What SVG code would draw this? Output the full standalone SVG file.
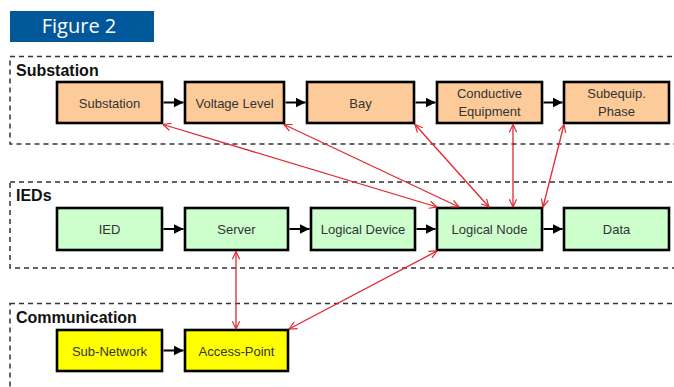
<svg xmlns="http://www.w3.org/2000/svg" width="674" height="387" viewBox="0 0 674 387">
  <style>
    .band { fill: none; stroke: #333; stroke-width: 1.5; stroke-dasharray: 5 4; }
    .band-title { font-family: "Liberation Sans", Arial, sans-serif; font-weight: bold; font-size: 16px; fill: #111; }
    .box { stroke: #000; stroke-width: 2.6; }
    .sub { fill: #FDCB9A; }
    .ied { fill: #CCFFCC; }
    .com { fill: #FFFF00; }
    .lbl { font-family: "Liberation Sans", Arial, sans-serif; font-size: 13px; fill: #333; text-anchor: middle; }
    .flow { stroke: #000; stroke-width: 2; fill: none; marker-end: url(#head); }
    .link { stroke: #E0282E; stroke-width: 1.3; fill: none; marker-start: url(#vee); marker-end: url(#vee); }
  </style>
  <defs>
    <marker id="head" viewBox="0 0 10 10" refX="10" refY="5" markerWidth="5" markerHeight="5" markerUnits="strokeWidth" orient="auto">
      <path d="M0,0 L10,5 L0,10 Z" fill="#000"/>
    </marker>
    <marker id="vee" viewBox="0 0 10 10" refX="9.5" refY="5" markerWidth="7" markerHeight="7" markerUnits="strokeWidth" orient="auto-start-reverse">
      <path d="M1,1 L9.5,5 L1,9" fill="none" stroke="#E0282E" stroke-width="1.3"/>
    </marker>
  </defs>

  <rect width="674" height="387" fill="#fff"/>

  <!-- title banner -->
  <g id="banner">
    <rect x="10" y="11" width="144" height="31" fill="#00589A"/>
    <text x="79" y="33" font-family="'Open Sans', 'Noto Sans', sans-serif" font-size="20" fill="#fff" text-anchor="middle">Figure 2</text>
  </g>

  <!-- layer bands -->
  <g id="bands">
    <rect class="band" x="10" y="56.5" width="700" height="87.5"/>
    <text class="band-title" x="16" y="76">Substation</text>
    <rect class="band" x="10" y="182" width="700" height="86"/>
    <text class="band-title" x="16" y="201">IEDs</text>
    <rect class="band" x="10" y="303.5" width="700" height="120"/>
    <text class="band-title" x="16" y="323">Communication</text>
  </g>

  <!-- substation layer -->
  <g id="n-substation"><rect class="box sub" x="57" y="82" width="105" height="41"/><text class="lbl" x="109.5" y="107.5">Substation</text></g>
  <g id="n-voltage-level"><rect class="box sub" x="185" y="82" width="99" height="41"/><text class="lbl" x="234.5" y="107.5">Voltage Level</text></g>
  <g id="n-bay"><rect class="box sub" x="307" y="82" width="107" height="41"/><text class="lbl" x="360.5" y="107.5">Bay</text></g>
  <g id="n-conductive-equipment"><rect class="box sub" x="437" y="82" width="105" height="41"/><text class="lbl" x="489.5" y="98">Conductive</text><text class="lbl" x="489.5" y="115.5">Equipment</text></g>
  <g id="n-subequip-phase"><rect class="box sub" x="564" y="82" width="105" height="41"/><text class="lbl" x="616.5" y="98">Subequip.</text><text class="lbl" x="616.5" y="115.5">Phase</text></g>

  <!-- IED layer -->
  <g id="n-ied"><rect class="box ied" x="57" y="208" width="105" height="42"/><text class="lbl" x="109.5" y="233.5">IED</text></g>
  <g id="n-server"><rect class="box ied" x="185" y="208" width="103" height="42"/><text class="lbl" x="236.5" y="233.5">Server</text></g>
  <g id="n-logical-device"><rect class="box ied" x="311" y="208" width="104" height="42"/><text class="lbl" x="363" y="233.5">Logical Device</text></g>
  <g id="n-logical-node"><rect class="box ied" x="437" y="208" width="105" height="42"/><text class="lbl" x="489.5" y="233.5">Logical Node</text></g>
  <g id="n-data"><rect class="box ied" x="564" y="208" width="105" height="42"/><text class="lbl" x="616.5" y="233.5">Data</text></g>

  <!-- communication layer -->
  <g id="n-sub-network"><rect class="box com" x="57" y="330" width="105" height="41"/><text class="lbl" x="109.5" y="355.5">Sub-Network</text></g>
  <g id="n-access-point"><rect class="box com" x="185" y="330" width="103" height="41"/><text class="lbl" x="236.5" y="355.5">Access-Point</text></g>

  <!-- connectors -->
  <g id="connectors">
    <!-- containment chains -->
    <line class="flow" x1="163.5" y1="102.5" x2="183.5" y2="102.5"/>
    <line class="flow" x1="285.5" y1="102.5" x2="305.5" y2="102.5"/>
    <line class="flow" x1="415.5" y1="102.5" x2="435.5" y2="102.5"/>
    <line class="flow" x1="543.5" y1="102.5" x2="562.5" y2="102.5"/>
    <line class="flow" x1="163.5" y1="229" x2="183.5" y2="229"/>
    <line class="flow" x1="289.5" y1="229" x2="309.5" y2="229"/>
    <line class="flow" x1="416.5" y1="229" x2="435.5" y2="229"/>
    <line class="flow" x1="543.5" y1="229" x2="562.5" y2="229"/>
    <line class="flow" x1="163.5" y1="350.5" x2="183.5" y2="350.5"/>
    <!-- cross-layer references -->
    <line class="link" x1="163" y1="124.5" x2="437" y2="207"/>
    <line class="link" x1="284" y1="124.5" x2="459" y2="207"/>
    <line class="link" x1="415" y1="124.5" x2="489" y2="207"/>
    <line class="link" x1="513" y1="124.5" x2="513" y2="207"/>
    <line class="link" x1="564" y1="124.5" x2="543" y2="207"/>
    <line class="link" x1="236" y1="251.5" x2="236" y2="329"/>
    <line class="link" x1="437" y1="251" x2="289" y2="329"/>
  </g>
</svg>
